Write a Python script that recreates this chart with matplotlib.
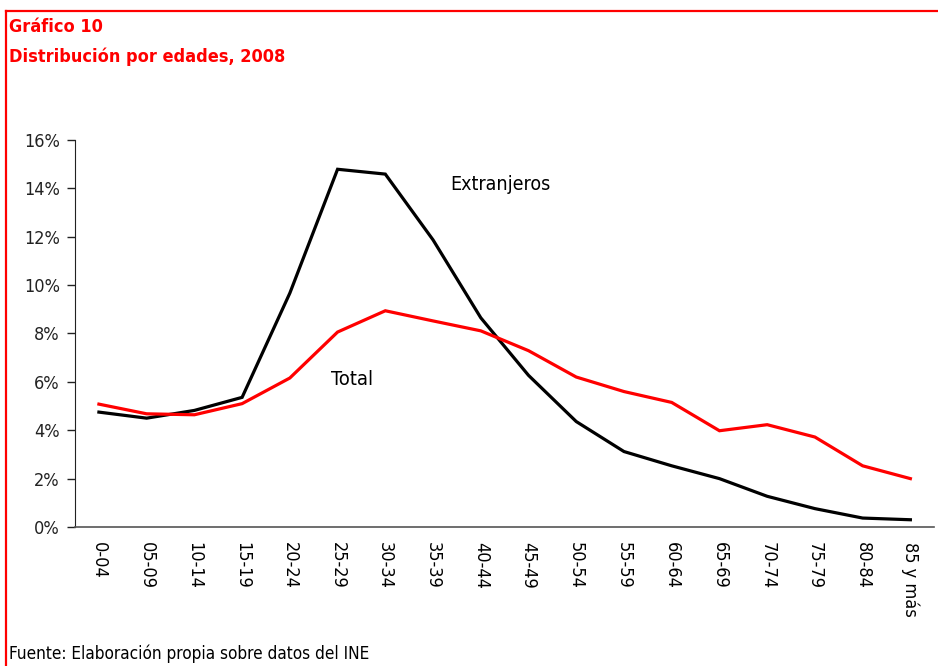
import matplotlib
matplotlib.use("Agg")
import matplotlib.pyplot as plt
from matplotlib.lines import Line2D
from matplotlib.ticker import FuncFormatter

plt.rcParams["font.family"] = ["DejaVu Sans"]
plt.rcParams["font.stretch"] = "condensed"

# datos
edades = ["0-04", "05-09", "10-14", "15-19", "20-24", "25-29", "30-34", "35-39",
          "40-44", "45-49", "50-54", "55-59", "60-64", "65-69", "70-74", "75-79",
          "80-84", "85 y más"]
extranjeros = [4.75, 4.50, 4.82, 5.36, 9.67, 14.79, 14.59, 11.87, 8.65, 6.27,
               4.36, 3.12, 2.53, 2.00, 1.27, 0.76, 0.37, 0.30]
total = [5.08, 4.68, 4.64, 5.10, 6.16, 8.06, 8.94, 8.52, 8.11, 7.29, 6.20,
         5.60, 5.15, 3.98, 4.23, 3.72, 2.53, 2.00]

RED = "#ff0000"

fig = plt.figure(figsize=(9.38, 6.66), dpi=100)
ax = fig.add_axes([0.08, 0.2087, 0.916, 0.5811])

x = range(len(edades))
ax.plot(x, extranjeros, color="black", lw=2.3, solid_joinstyle="miter")
ax.plot(x, total, color=RED, lw=2.3, solid_joinstyle="miter")

ax.set_xlim(-0.5, len(edades) - 0.5)
ax.set_ylim(0, 16)
ax.set_yticks(range(0, 17, 2))
ax.yaxis.set_major_formatter(FuncFormatter(lambda v, p: f"{v:.0f}%"))
ax.set_xticks(list(x))
ax.set_xticklabels(edades, rotation=-90, fontsize=13, va="top", ha="center")
ax.tick_params(axis="x", length=0, pad=11)
ax.tick_params(axis="y", length=6, width=1, labelsize=13, pad=5, colors="#222222")
for s in ("top", "right"):
    ax.spines[s].set_visible(False)
ax.spines["left"].set_color("#222222")
ax.spines["bottom"].set_color("#555555")
ax.spines["bottom"].set_linewidth(1.2)

ax.text(7.35, 14.15, "Extranjeros", fontsize=14, va="center", ha="left")
ax.text(4.87, 6.1, "Total", fontsize=14.5, va="center", ha="left")

# marco rojo
fig.add_artist(Line2D([6 / 938, 1], [1 - 11 / 666, 1 - 11 / 666], color=RED, lw=1.6))
fig.add_artist(Line2D([6 / 938, 6 / 938], [0, 1 - 11 / 666], color=RED, lw=1.6))

fig.text(9 / 938, 1 - 27 / 666, "Gráfico 10", color=RED, fontsize=13,
         fontweight="bold", va="center", ha="left")
fig.text(9 / 938, 1 - 57 / 666, "Distribución por edades, 2008", color=RED,
         fontsize=13, fontweight="bold", va="center", ha="left")
fig.text(9 / 938, 1 - 654 / 666, "Fuente: Elaboración propia sobre datos del INE",
         fontsize=12.3, va="center", ha="left")

fig.savefig("out.png", dpi=100)
